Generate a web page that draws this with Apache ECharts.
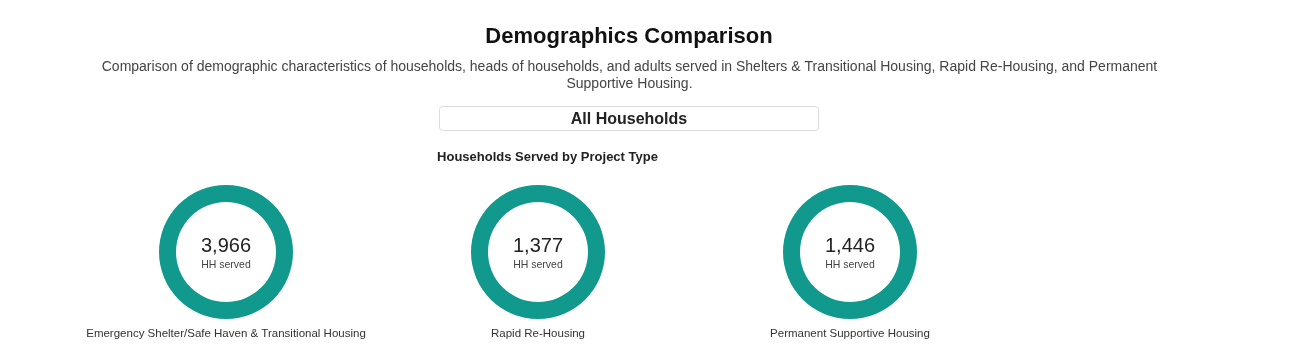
<!DOCTYPE html>
<html>
<head>
<meta charset="utf-8">
<script src="https://cdn.jsdelivr.net/npm/echarts@6/dist/echarts.min.js"></script>
<style>
html,body{margin:0;padding:0;background:#fff;}
#chart{width:1305px;height:364px;}
</style>
</head>
<body>
<div id="chart"></div>
<script>
var categories = ['Emergency Shelter/Safe Haven & Transitional Housing', 'Rapid Re-Housing', 'Permanent Supportive Housing'];
var householdsServed = [3966, 1377, 1446];
var centerCaption = 'HH served';
var mainTitle = 'Demographics Comparison';
var subTitleLines = ['Comparison of demographic characteristics of households, heads of households, and adults served in Shelters & Transitional Housing, Rapid Re-Housing, and Permanent', 'Supportive Housing.'];
var selectorText = 'All Households';
var sectionTitle = 'Households Served by Project Type';

var centersX = [226, 538, 850];
var centerY = 252;
var teal = '#10998c';
var font = 'Arial, "Liberation Sans", sans-serif';

var chart = echarts.init(document.getElementById('chart'));

function txt(t, x, y, size, weight, color){
  return {type: 'text', x: x, y: y, silent: true,
    style: {text: t, fontFamily: font, fontSize: size, fontWeight: weight, fill: color, align: 'center', verticalAlign: 'middle'}};
}

var graphics = [
  txt(mainTitle, 629, 37, 22, 'bold', '#111'),
  txt(subTitleLines[0], 629.5, 67, 14, 'normal', '#444'),
  txt(subTitleLines[1], 629.5, 84, 14, 'normal', '#444'),
  {type: 'rect', silent: true, shape: {x: 439.5, y: 106.5, width: 379, height: 24, r: 3},
   style: {fill: '#fff', stroke: '#dcdcdc', lineWidth: 1}},
  txt(selectorText, 629, 119.5, 16, 'bold', '#222'),
  txt(sectionTitle, 547.5, 157, 13, 'bold', '#222')
];
categories.forEach(function(c, i){
  graphics.push(txt(c, centersX[i], 333.5, 11.5, 'normal', '#333'));
});

var series = categories.map(function(c, i){
  return {
    type: 'pie',
    center: [centersX[i], centerY],
    radius: [50, 67],
    silent: true,
    avoidLabelOverlap: false,
    itemStyle: {color: teal},
    label: {
      show: true, position: 'center',
      formatter: function(p){ return '{v|' + p.value.toLocaleString('en-US') + '}\n{c|' + centerCaption + '}'; },
      rich: {
        v: {fontFamily: font, fontSize: 20, color: '#222', lineHeight: 26},
        c: {fontFamily: font, fontSize: 10.5, color: '#444', lineHeight: 12}
      }
    },
    labelLine: {show: false},
    emphasis: {disabled: true},
    data: [{name: c, value: householdsServed[i]}]
  };
});

chart.setOption({
  animation: false,
  graphic: graphics,
  series: series
});
</script>
</body>
</html>
